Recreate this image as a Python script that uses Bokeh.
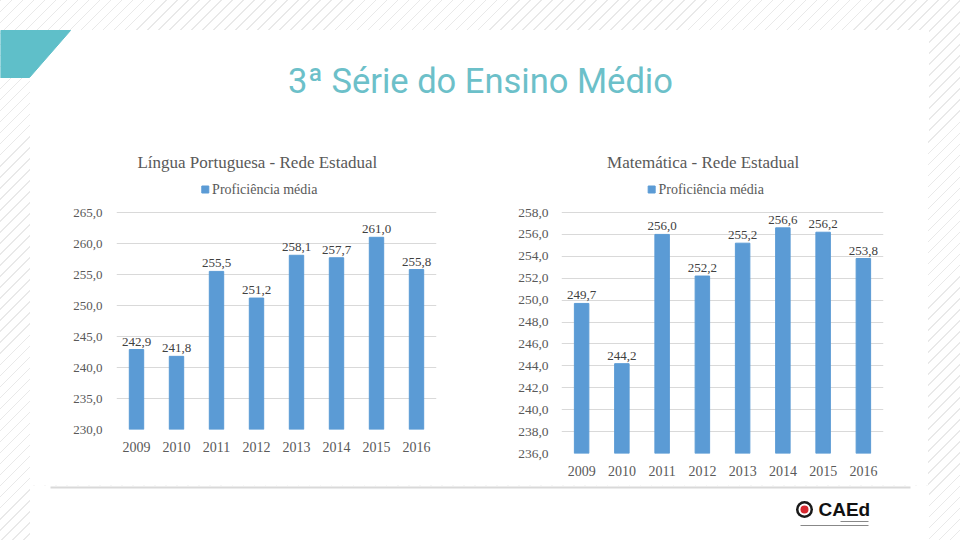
from bokeh.plotting import figure
from bokeh.layouts import column, row
from bokeh.models import (Range1d, FactorRange, ColumnDataSource, LabelSet,
                          FixedTicker, CustomJSTickFormatter, Spacer)
from bokeh.core.properties import value
from bokeh.embed import file_html
from bokeh.resources import INLINE

years = ["2009", "2010", "2011", "2012", "2013", "2014", "2015", "2016"]
port_values = [242.9, 241.8, 255.5, 251.2, 258.1, 257.7, 261.0, 255.8]
mat_values = [249.7, 244.2, 256.0, 252.2, 255.2, 256.6, 256.2, 253.8]
port_ticks = [230, 235, 240, 245, 250, 255, 260, 265]
mat_ticks = [236, 238, 240, 242, 244, 246, 248, 250, 252, 254, 256, 258]

page_title = "3ª Série do Ensino Médio"
port_title = "Língua Portuguesa - Rede Estadual"
mat_title = "Matemática - Rede Estadual"
series_name = "Proficiência média"

BAR = "#5b9bd5"
TEAL = "#5fbfc9"
GRID = "#d9d9d9"
TXT = "#595959"
SERIF = "Liberation Serif"
ROW_H = 345
STRIPES = {"background-color": "white",
           "background-image": "repeating-linear-gradient(135deg, #e9e9e9 0px, "
                               "#e9e9e9 1.1px, rgba(255,255,255,0) 1.1px, "
                               "rgba(255,255,255,0) 7.8px)"}


def comma(v):
    return f"{v:.1f}".replace(".", ",")


def deco(width, height):
    # transparent piece of the slide, the stripes come from the page layout
    p = figure(width=width, height=height, x_range=Range1d(0, width),
               y_range=Range1d(height, 0), output_backend="svg",
               toolbar_location=None, min_border=0, x_axis_type=None,
               y_axis_type=None, outline_line_color=None,
               background_fill_alpha=0, border_fill_alpha=0)
    return p


def bar_chart(title, values, ticks, width, height, left, right, bottom,
              top_gap, title_x, legend_x, ysize, ystand):
    # frame starts at the top of the row; the value axis begins top_gap px lower
    frame_h = height - bottom
    units_per_px = (ticks[-1] - ticks[0]) / (frame_h - top_gap)
    y_end = ticks[-1] + top_gap * units_per_px
    src = ColumnDataSource(dict(year=years, value=values,
                                label=[comma(v) for v in values]))
    p = figure(x_range=FactorRange(*years), y_range=Range1d(ticks[0], y_end),
               width=width, height=height, output_backend="svg",
               toolbar_location=None, min_border_left=left,
               min_border_right=right, min_border_bottom=bottom,
               min_border_top=0, outline_line_color=None)
    p.vbar(x="year", top="value", bottom=ticks[0], width=0.36,
           color=BAR, source=src)
    p.add_layout(LabelSet(x="year", y="value", text="label", source=src,
                          y_offset=4, text_align="center",
                          text_baseline="bottom", text_font=value(SERIF),
                          text_font_size="13px", text_color="#404040"))

    # chart title and legend inside the blank band above the value axis
    p.text(x=[title_x], y=[y_end - 22 * units_per_px], text=[title],
           text_align="center", text_baseline="middle",
           text_font=value(SERIF), text_font_size="17px", text_color=TXT)
    ly = y_end - 49 * units_per_px
    p.scatter(x=[legend_x], y=[ly], marker="square", size=7, color=BAR)
    p.text(x=[legend_x + 0.17], y=[ly], text=[series_name],
           text_align="left", text_baseline="middle",
           text_font=value(SERIF), text_font_size="14px", text_color=TXT)

    p.yaxis.ticker = FixedTicker(ticks=ticks)
    p.yaxis.formatter = CustomJSTickFormatter(
        code="return tick.toFixed(1).replace('.', ',');")
    for ax in (p.xaxis, p.yaxis):
        ax.axis_line_color = None
        ax.major_tick_line_color = None
        ax.minor_tick_line_color = None
        ax.major_label_text_font = SERIF
        ax.major_label_text_color = TXT
    p.yaxis.major_label_text_font_size = ysize
    p.yaxis.major_label_standoff = ystand
    p.xaxis.major_label_text_font_size = "14px"
    p.xaxis.major_label_standoff = 6
    p.xgrid.grid_line_color = None
    p.ygrid.grid_line_color = GRID
    p.ygrid.ticker = FixedTicker(ticks=ticks)
    return p


# header
head = deco(960, 140)
head.quad(left=30, right=928, top=30, bottom=140, color="white")
head.patch(x=[0, 70, 29, 0], y=[30, 30, 77, 77], color=TEAL)
head.text(x=[480], y=[80], text=[page_title], text_align="center",
          text_baseline="middle", text_font=value("Roboto"),
          text_font_size="34.5px", text_color="#6cc0c9")

# charts (row aligns bottom borders, so the first chart is just shorter)
port = bar_chart(port_title, port_values, port_ticks, 450, 321, 86, 44, 32,
                 72, 3.52, 2.22, "13px", 8)
mat = bar_chart(mat_title, mat_values, mat_ticks, 448, ROW_H, 81, 45, 32,
                72, 3.52, 2.24, "13.5px", 7)
card = row(port, mat, spacing=0, styles={"background-color": "white"})
middle = row(Spacer(width=30, height=ROW_H), card,
             Spacer(width=32, height=ROW_H), spacing=0)

# footer with the CAEd logo
foot = deco(960, 55)
foot.quad(left=30, right=928, top=0, bottom=55, color="white")
foot.segment(x0=[50], y0=[2], x1=[910], y1=[2], line_color=GRID, line_width=2)
foot.scatter(x=[804], y=[24], size=17, fill_color="#1a1a1a", line_color=None)
foot.scatter(x=[804], y=[24], size=12, fill_color="white", line_color=None)
foot.scatter(x=[804], y=[24], size=8, fill_color="#d7282f", line_color=None)
foot.text(x=[818], y=[24], text=["CAEd"], text_baseline="middle",
          text_font=value("Liberation Sans"), text_font_style="bold",
          text_font_size="19px", text_color="#111111")
foot.segment(x0=[840, 800], y0=[36, 40], x1=[868, 868], y1=[36, 40],
             line_color="#888888", line_width=1)

layout = column(head, middle, foot, spacing=0, styles=STRIPES)

open("out.html", "w").write(file_html(layout, INLINE))
